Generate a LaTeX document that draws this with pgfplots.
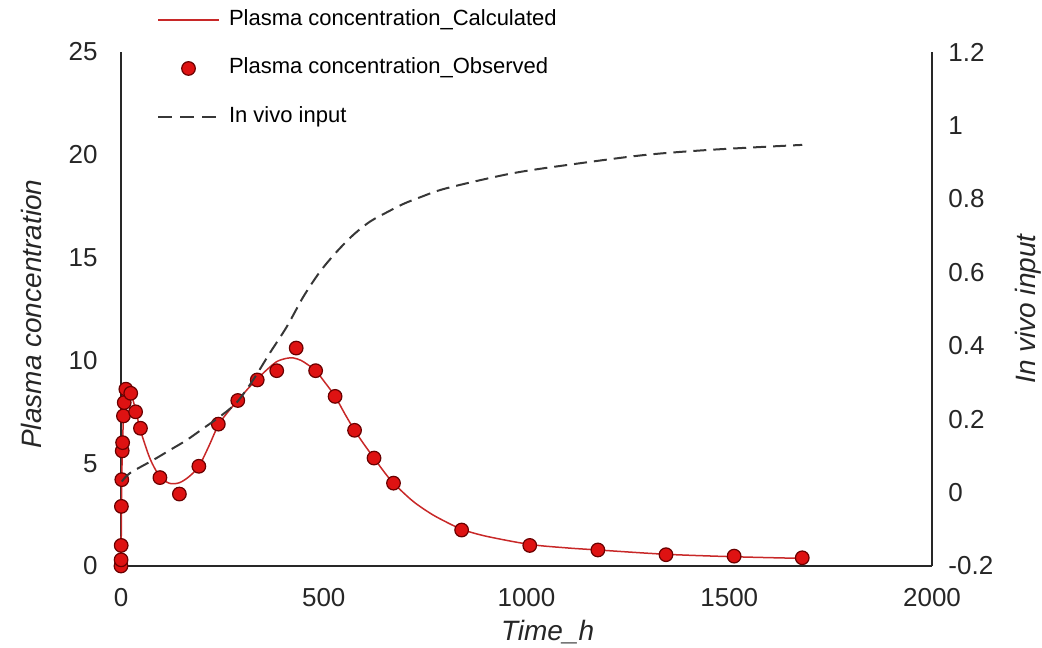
\documentclass[border=0pt]{standalone}
\usepackage{fontspec}
\setmainfont{Liberation Sans}
\usepackage{pgfplots}
\pgfplotsset{compat=1.18}
\definecolor{obsfill}{RGB}{222,18,18}
\definecolor{obsedge}{RGB}{105,0,0}
\definecolor{calcline}{RGB}{200,40,40}
\definecolor{axgray}{RGB}{40,40,40}
\definecolor{dashgray}{RGB}{55,55,55}
\pgfplotsset{
  lineleg/.style={legend image code/.code={\path[draw=none,fill=none] (0pt,-3.5pt) rectangle (30.5pt,3.5pt); \draw[##1] (0pt,0pt) -- (30.5pt,0pt);}},
  markleg/.style={legend image code/.code={\path[draw=none,fill=none] (0pt,-3.5pt) rectangle (30.5pt,3.5pt); \draw[##1] plot coordinates {(15.25pt,0pt)};}},
}
\begin{document}
\begin{tikzpicture}
\path[use as bounding box] (-60.5pt,-40.5pt) rectangle (460.5pt,283pt);
\begin{axis}[
  at={(0pt,0pt)}, anchor=south west,
  scale only axis, width=405.5pt, height=257pt,
  xmin=0, xmax=2000, ymin=0, ymax=25,
  clip=false,
  axis x line*=bottom, axis y line*=left,
  axis line style={axgray, line width=0.8pt, -},
  xtick={0,500,1000,1500,2000}, xticklabels={0,500,1000,1500,2000},
  ytick={0,5,10,15,20,25}, yticklabels={0,5,10,15,20,25},
  major tick length=0pt,
  tick label style={font=\fontsize{13}{15}\selectfont, text=black!85, inner sep=0pt},
  xticklabel style={anchor=north, yshift=-11pt},
  yticklabel style={anchor=east, xshift=-11.5pt},
  xlabel={Time\_h}, ylabel={Plasma concentration},
  label style={font=\fontsize{14}{16}\selectfont\itshape, text=black!85, inner sep=0pt},
  xlabel style={at={(axis description cs:0.526,-0.144)}, anchor=base},
  ylabel style={at={(axis description cs:-0.0986,0.49)}, anchor=base},
  legend style={draw=none, fill=none, at={(0.0444,1.0827)}, anchor=north west,
    inner sep=0pt, outer sep=0pt, font=\fontsize{11}{13}\selectfont,
    row sep=13.75pt, column sep=4.5pt,
    nodes={inner sep=0pt, text height=8pt, text depth=2.5pt}},
  legend cell align=left,
]
\addplot[calcline, line width=0.75pt, smooth, lineleg]
table {
0 0
0.5 1.0
1 2.9
2 4.2
3 5.6
4 6.0
6 7.3
8 7.9
12 8.4
18 8.6
24 8.45
36 7.6
48 6.6
72 5.2
96 4.35
120 4.02
144 4.05
168 4.35
192 4.85
216 5.8
240 6.85
264 7.5
288 8.05
312 8.6
336 9.1
360 9.55
384 9.94
408 10.1
425 10.12
444 10.0
460 9.8
480 9.5
504 8.9
528 8.25
552 7.4
576 6.6
600 5.9
624 5.25
648 4.6
672 4.03
720 3.15
768 2.5
816 2.0
840 1.78
900 1.45
1008 1.05
1100 0.88
1176 0.78
1344 0.57
1512 0.45
1680 0.37
};
\addlegendentry{Plasma concentration\_Calculated}
\addplot[only marks, mark=*, mark size=3.4pt, mark options={fill=obsfill, draw=obsedge, line width=0.6pt}, markleg]
table {
0 0.0
0.25 0.3
0.5 1.0
1 2.9
2 4.2
3 5.6
4 6.0
6 7.3
8 7.95
12 8.6
24 8.4
36 7.5
48 6.7
96 4.3
144 3.5
192 4.85
240 6.9
288 8.05
336 9.05
384 9.5
432 10.6
480 9.5
528 8.25
576 6.6
624 5.25
672 4.03
840 1.75
1008 1.0
1176 0.78
1344 0.55
1512 0.48
1680 0.4
};
\addlegendentry{Plasma concentration\_Observed}
\addlegendimage{dashgray, line width=1pt, dash pattern=on 7pt off 4pt, lineleg}
\addlegendentry{In vivo input}
\end{axis}
\begin{axis}[
  at={(0pt,0pt)}, anchor=south west,
  scale only axis, width=405.5pt, height=257pt,
  xmin=0, xmax=2000, ymin=-0.2, ymax=1.2,
  axis x line=none, axis y line*=right,
  axis line style={axgray, line width=0.8pt, -},
  ytick={-0.2,0,0.2,0.4,0.6,0.8,1,1.2},
  yticklabels={-0.2,0,0.2,0.4,0.6,0.8,1,1.2},
  major tick length=0pt,
  tick label style={font=\fontsize{13}{15}\selectfont, text=black!85, inner sep=0pt},
  yticklabel style={anchor=west, xshift=8pt},
  ylabel={In vivo input},
  label style={font=\fontsize{14}{16}\selectfont\itshape, text=black!85, inner sep=0pt},
  ylabel style={at={(axis description cs:1.1282,0.5)}, anchor=base},
]
\addplot[dashgray, line width=1pt, dash pattern=on 6.5pt off 3.5pt, smooth]
table {
2 0.03
22 0.053
80 0.089
121 0.116
162 0.143
203 0.175
244 0.207
285 0.245
326 0.307
367 0.380
409 0.452
450 0.534
491 0.602
532 0.656
573 0.702
614 0.738
655 0.763
696 0.786
737 0.804
803 0.829
967 0.870
1132 0.897
1296 0.920
1460 0.934
1680 0.947
};
\end{axis}
\end{tikzpicture}
\end{document}
